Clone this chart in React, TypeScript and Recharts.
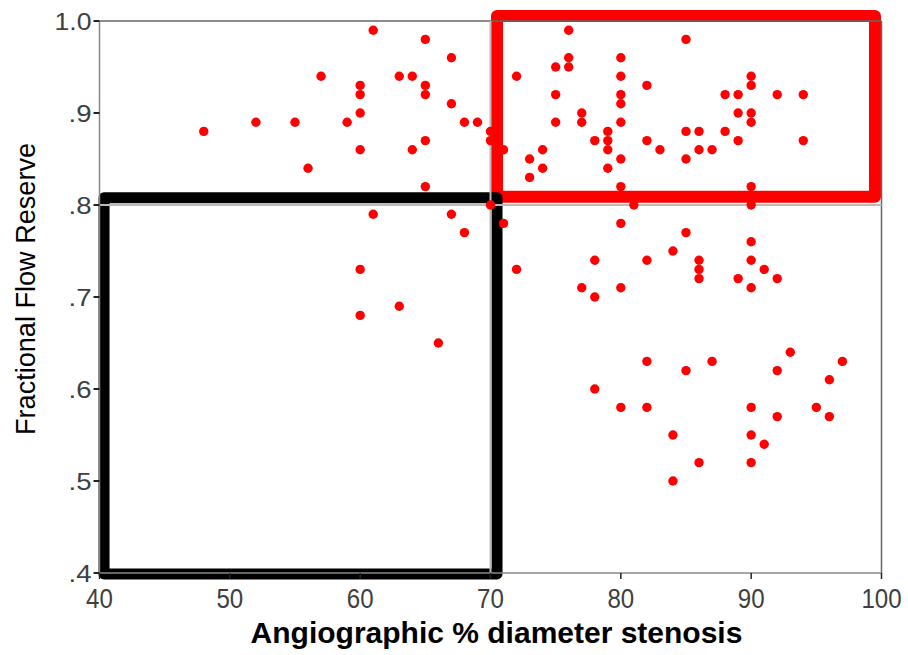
import React from 'react';
import {
  ScatterChart,
  Scatter,
  XAxis,
  YAxis,
  ReferenceArea,
  ReferenceLine,
  Label,
} from 'recharts';

// Angiographic % diameter stenosis
const stenosis: number[] = [
  48, 52, 55, 56, 57, 59, 60, 60, 60, 60, 60, 60, 61, 61, 63, 63, 64, 64, 65, 65,
  65, 65, 65, 66, 67, 67, 67, 68, 68, 69, 70, 70, 70, 71, 71, 72, 72, 73, 73, 74,
  74, 75, 75, 75, 76, 76, 76, 77, 77, 77, 78, 78, 78, 78, 79, 79, 79, 79, 80, 80,
  80, 80, 80, 80, 80, 80, 80, 80, 81, 82, 82, 82, 82, 82, 83, 84, 84, 84, 85, 85,
  85, 85, 85, 86, 86, 86, 86, 86, 86, 87, 87, 88, 88, 89, 89, 89, 89, 90, 90, 90,
  90, 90, 90, 90, 90, 90, 90, 90, 90, 91, 91, 92, 92, 92, 92, 93, 94, 94, 95, 96,
  96, 97,
];

// Fractional flow reserve
const ffr: number[] = [
  0.88, 0.89, 0.89, 0.84, 0.94, 0.89, 0.93, 0.92, 0.9, 0.86, 0.73, 0.68, 0.99, 0.79, 0.94, 0.69, 0.94, 0.86, 0.98, 0.93,
  0.92, 0.87, 0.82, 0.65, 0.96, 0.91, 0.79, 0.89, 0.77, 0.89, 0.88, 0.87, 0.8, 0.86, 0.78, 0.94, 0.73, 0.85, 0.83, 0.86,
  0.84, 0.95, 0.92, 0.89, 0.99, 0.96, 0.95, 0.9, 0.89, 0.71, 0.87, 0.74, 0.7, 0.6, 0.88, 0.87, 0.86, 0.84, 0.96, 0.94,
  0.92, 0.91, 0.89, 0.85, 0.82, 0.78, 0.71, 0.58, 0.8, 0.93, 0.87, 0.74, 0.63, 0.58, 0.86, 0.75, 0.55, 0.5, 0.98, 0.88,
  0.85, 0.77, 0.62, 0.88, 0.86, 0.74, 0.73, 0.72, 0.52, 0.86, 0.63, 0.92, 0.88, 0.92, 0.9, 0.87, 0.72, 0.94, 0.93, 0.9,
  0.89, 0.82, 0.8, 0.76, 0.74, 0.71, 0.58, 0.55, 0.52, 0.73, 0.54, 0.92, 0.72, 0.62, 0.57, 0.64, 0.92, 0.87, 0.58, 0.61,
  0.57, 0.63,
];

const xTicks: number[] = [40, 50, 60, 70, 80, 90, 100];
const xTickLabels: string[] = ['40', '50', '60', '70', '80', '90', '100'];
const yTicks: number[] = [0.4, 0.5, 0.6, 0.7, 0.8, 0.9, 1.0];
const yTickLabels: string[] = ['.4', '.5', '.6', '.7', '.8', '.9', '1.0'];

const xTitle = 'Angiographic % diameter stenosis';
const yTitle = 'Fractional Flow Reserve';

// Highlight boxes (data coordinates)
const redBox = { x1: 70.5, x2: 99.5, y1: 0.809, y2: 1.0054 };
const blackBox = { x1: 40.35, x2: 70.5, y1: 0.399, y2: 0.808 };

const data = stenosis.map((x, i) => ({ x, y: ffr[i] }));

const FONT = '"Liberation Sans", Arial, sans-serif';

const XTick = (props: any) => {
  const { x, y, payload } = props;
  const idx = xTicks.indexOf(payload.value);
  const label = idx >= 0 ? xTickLabels[idx] : String(payload.value);
  return (
    <text
      x={x}
      y={y + 29}
      textAnchor="middle"
      fontFamily={FONT}
      fontSize={27}
      fill="#404040"
      textLength={label.length * 13.4}
      lengthAdjust="spacingAndGlyphs"
    >
      {label}
    </text>
  );
};

const YTick = (props: any) => {
  const { x, y, payload } = props;
  const idx = yTicks.findIndex((t) => Math.abs(t - payload.value) < 1e-9);
  const label = idx >= 0 ? yTickLabels[idx] : String(payload.value);
  const digits = label.replace('.', '').length;
  const dots = label.length - digits;
  return (
    <text
      x={x - 2}
      y={y + 9}
      textAnchor="end"
      fontFamily={FONT}
      fontSize={24}
      fill="#404040"
      textLength={digits * 14 + dots * 9}
      lengthAdjust="spacingAndGlyphs"
    >
      {label}
    </text>
  );
};

const Box = (color: string, width: number) => (p: any) => (
  <rect
    x={p.x}
    y={p.y}
    width={p.width}
    height={p.height}
    fill="none"
    stroke={color}
    strokeWidth={width}
    strokeLinejoin="round"
  />
);

const Dot = (p: any) => <circle cx={p.cx} cy={p.cy} r={4.7} fill="#ff0000" />;

export default function App() {
  return (
    <div style={{ position: 'absolute', left: 0, top: 0, background: '#fff' }}>
      <ScatterChart
        width={908}
        height={655}
        margin={{ top: 21, right: 26.5, bottom: 22, left: 39.5 }}
      >
        <XAxis
          type="number"
          dataKey="x"
          domain={[40, 100]}
          ticks={xTicks}
          allowDataOverflow
          height={60}
          tickSize={6}
          tickMargin={0}
          axisLine={{ stroke: '#888', strokeWidth: 1.5 }}
          tickLine={{ stroke: '#222', strokeWidth: 1.5 }}
          tick={<XTick />}
          interval={0}
        >
          <Label
            content={() => (
              <text
                x={496.5}
                y={643}
                textAnchor="middle"
                fontFamily={FONT}
                fontWeight="bold"
                fontSize={30}
                fill="#000"
              >
                {xTitle}
              </text>
            )}
          />
        </XAxis>
        <YAxis
          type="number"
          dataKey="y"
          domain={[0.4, 1.0]}
          ticks={yTicks}
          allowDataOverflow
          width={60}
          tickSize={6}
          tickMargin={0}
          axisLine={{ stroke: '#888', strokeWidth: 1.5 }}
          tickLine={{ stroke: '#222', strokeWidth: 2 }}
          tick={<YTick />}
          interval={0}
        >
          <Label
            content={() => (
              <text
                x={35}
                y={289}
                transform="rotate(-90 35 289)"
                textAnchor="middle"
                fontFamily={FONT}
                fontSize={27}
                fill="#000"
                textLength={292}
                lengthAdjust="spacingAndGlyphs"
              >
                {yTitle}
              </text>
            )}
          />
        </YAxis>
        <ReferenceLine y={1.0} stroke="#666" strokeWidth={1.5} ifOverflow="visible" />
        <ReferenceLine x={100} stroke="#666" strokeWidth={1.5} ifOverflow="visible" />
        <ReferenceLine x={70} stroke="#bbb" strokeWidth={2} />
        <ReferenceLine y={0.8} stroke="#bbb" strokeWidth={2} />
        <Scatter data={data} isAnimationActive={false} shape={<Dot />} />
        <ReferenceArea
          x1={redBox.x1}
          x2={redBox.x2}
          y1={redBox.y1}
          y2={redBox.y2}
          ifOverflow="visible"
          shape={Box('#ff0000', 12)}
        />
        <ReferenceArea
          x1={blackBox.x1}
          x2={blackBox.x2}
          y1={blackBox.y1}
          y2={blackBox.y2}
          ifOverflow="visible"
          shape={Box('#000000', 11)}
        />
      </ScatterChart>
    </div>
  );
}
